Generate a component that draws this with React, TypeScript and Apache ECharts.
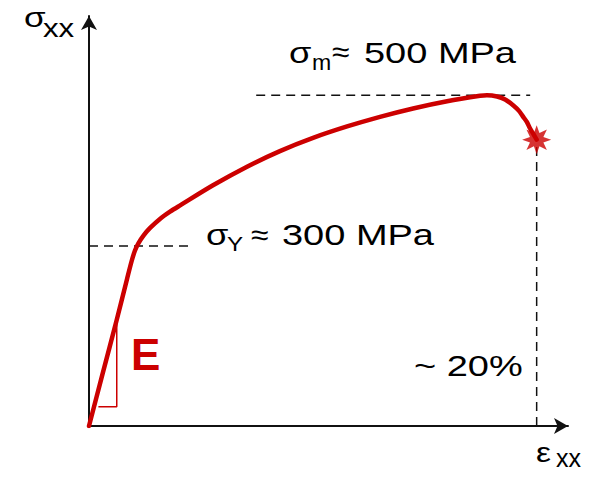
import React, { useEffect, useRef } from "react";
import * as echarts from "echarts";

// Stress–strain curve (strain in %, stress in MPa, schematic)
const curveStrain = [0, 0.6, 1.24, 1.7, 1.9, 2.05, 2.2, 2.45, 2.73, 3.17, 3.62, 4.07, 5.54, 7.06, 8.53, 10.01, 11.53, 13.0, 14.48, 16.0, 17.47, 17.78, 18.23, 18.59, 18.96, 19.21, 19.4, 19.57, 19.7, 19.86, 20.0];
const curveStress = [0, 86, 177, 245, 274, 292, 304, 318, 330, 345, 357, 367.5, 401, 432, 458, 480, 499, 515, 529, 541, 550, 551, 549, 544, 534, 525, 515, 506, 496, 486, 477];

// Slope triangle for E
const slopeStrain = [0.42, 1.24, 1.24];
const slopeStress = [32, 32, 177];

const yieldStress = 300;
const yieldLineStrain = [0, 4.43];
const utsStress = 551;
const utsLineStrain = [7.47, 19.71];
const fractureStrain = 20;
const fractureStress = 477;

const RED = "#cc0000";
const FONT = "'Liberation Sans', Arial, sans-serif";

function starPath(n: number, ro: number, ri: number) {
  let d = "";
  for (let i = 0; i < 2 * n; i++) {
    const r = i % 2 === 0 ? ro : ri;
    const a = (Math.PI * i) / n - Math.PI / 2;
    const x = (r * Math.cos(a)).toFixed(2);
    const y = (r * Math.sin(a)).toFixed(2);
    d += (i === 0 ? "M" : "L") + x + " " + y + " ";
  }
  return "path://" + d + "Z";
}

export default function App() {
  const ref = useRef<HTMLDivElement>(null);
  useEffect(() => {
    if (!ref.current) return;
    const chart = echarts.init(ref.current, null, { renderer: "svg" });
    const dashStyle = { color: "#111", width: 1.5, type: [9, 6] as any };
    const txt = (text: string, x: number, y: number, size: number, sx = 1.31, extra: any = {}) => ({
      type: "text",
      x,
      y,
      scaleX: sx,
      style: {
        text,
        fill: "#000",
        font: `${size}px ${FONT}`,
        fontSize: size,
        fontFamily: FONT,
        verticalAlign: "middle",
        align: "left",
        ...extra,
      },
    });
    chart.setOption({
      animation: false,
      grid: { left: 89, right: 23, top: 16, bottom: 52 },
      xAxis: {
        type: "value",
        min: 0,
        max: 21.4,
        axisLine: { show: true, lineStyle: { color: "#111", width: 2 }, symbol: ["none", "arrow"], symbolSize: [12, 14] },
        axisTick: { show: false },
        axisLabel: { show: false },
        splitLine: { show: false },
      },
      yAxis: {
        type: "value",
        min: 0,
        max: 683,
        axisLine: { show: true, lineStyle: { color: "#111", width: 2 }, symbol: ["none", "arrow"], symbolSize: [12, 14] },
        axisTick: { show: false },
        axisLabel: { show: false },
        splitLine: { show: false },
      },
      series: [
        {
          type: "line",
          data: yieldLineStrain.map((x) => [x, yieldStress]),
          symbol: "none",
          lineStyle: dashStyle,
          silent: true,
        },
        {
          type: "line",
          data: utsLineStrain.map((x) => [x, utsStress]),
          symbol: "none",
          lineStyle: dashStyle,
          silent: true,
        },
        {
          type: "line",
          data: [[fractureStrain, 0], [fractureStrain, fractureStress]],
          symbol: "none",
          lineStyle: dashStyle,
          silent: true,
        },
        {
          type: "line",
          data: slopeStrain.map((x, i) => [x, slopeStress[i]]),
          symbol: "none",
          lineStyle: { color: RED, width: 1.5 },
          silent: true,
        },
        {
          type: "line",
          data: curveStrain.map((x, i) => [x, curveStress[i]]),
          symbol: "none",
          smooth: 0.3,
          lineStyle: { color: RED, width: 4.5, join: "round", cap: "round" },
          silent: true,
          z: 3,
        },
        {
          type: "scatter",
          data: [[fractureStrain, fractureStress]],
          symbol: starPath(8, 10, 5),
          symbolSize: 29,
          itemStyle: { color: RED },
          silent: true,
          z: 4,
        },
      ],
      graphic: [
        // σxx (y axis)
        txt("σ", 24, 17, 28, 1.25),
        txt("xx", 43, 28, 26, 1.2),
        // εxx (x axis)
        txt("ε", 536, 452, 28, 1.2),
        txt("xx", 556, 458, 25, 1.0),
        // σm ≈ 500 MPa
        txt("σ", 289, 53, 29, 1.25),
        txt("m", 312, 63, 22, 1.05),
        txt("≈", 332, 52, 29, 1.1),
        txt("500 MPa", 364, 52.5, 29),
        // σY ≈ 300 MPa
        txt("σ", 206, 235, 29, 1.25),
        txt("Y", 227, 244, 21, 1.15),
        txt("≈", 251, 235, 29, 1.1),
        txt("300 MPa", 282, 235, 29),
        // ~ 20%
        txt("~ 20%", 414, 366, 29),
        // E
        txt("E", 131, 354, 44, 1, { fill: RED, fontWeight: "bold", font: `bold 44px ${FONT}` }),
      ],
    });
    return () => chart.dispose();
  }, []);
  return <div ref={ref} style={{ position: "absolute", left: 0, top: 0, width: 591, height: 478 }} />;
}
